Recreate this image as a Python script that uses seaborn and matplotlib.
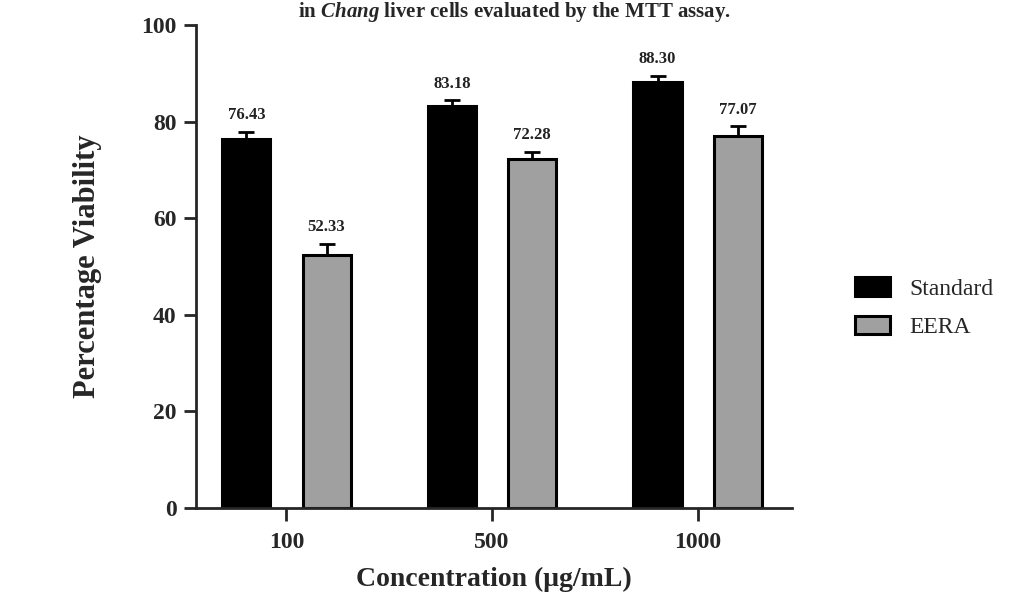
import numpy as np
import pandas as pd
import seaborn as sns
import matplotlib
matplotlib.use("Agg")
import matplotlib.pyplot as plt

concentrations = ["100", "500", "1000"]
groups = ["Standard", "EERA"]
standard_vals = [76.43, 83.18, 88.30]
eera_vals = [52.33, 72.28, 77.07]
standard_err = [1.5, 1.3, 1.2]
eera_err = [2.4, 1.5, 2.0]
value_labels = {"Standard": ["76.43", "83.18", "88.30"],
                "EERA": ["52.33", "72.28", "77.07"]}

df = pd.DataFrame({
    "Concentration": concentrations * 2,
    "Group": ["Standard"] * 3 + ["EERA"] * 3,
    "Viability": standard_vals + eera_vals,
    "Err": standard_err + eera_err,
})

sns.set_style("ticks")
plt.rcParams["font.family"] = ["Liberation Serif", "DejaVu Serif"]
plt.rcParams["mathtext.fontset"] = "custom"
plt.rcParams["mathtext.rm"] = "Liberation Serif:bold"
plt.rcParams["mathtext.it"] = "Liberation Serif:italic:bold"
plt.rcParams["mathtext.bf"] = "Liberation Serif:bold"

fig = plt.figure(figsize=(10.13, 5.98), dpi=100)
ax = fig.add_axes([0.1935, 0.1505, 0.5885, 0.8075])

sns.barplot(data=df, x="Concentration", y="Viability", hue="Group",
            order=concentrations, hue_order=groups,
            palette={"Standard": "#000000", "EERA": "#a0a0a0"},
            edgecolor="black", linewidth=2.2, width=0.78, gap=0.4,
            errorbar=None, legend=True, ax=ax)

for cont, g in zip(ax.containers, groups):
    sub = df[df["Group"] == g].set_index("Concentration").loc[concentrations]
    xs = [b.get_x() + b.get_width() / 2 for b in cont]
    ys = sub["Viability"].values
    errs = sub["Err"].values
    ax.errorbar(xs, ys, yerr=[np.zeros(len(errs)), errs], fmt="none",
                ecolor="black", elinewidth=2, capsize=6, capthick=2, zorder=3)
    for x, y, e, lab in zip(xs, ys, errs, value_labels[g]):
        ax.annotate(lab, (x, y + e), xytext=(0, 6), textcoords="offset points",
                    ha="center", va="bottom", fontsize=12, fontweight="bold",
                    color="#222222")

ax.set_ylim(0, 100)
ax.set_xlim(-0.44, 2.46)
ax.set_yticks([0, 20, 40, 60, 80, 100])
sns.despine(ax=ax)
for s in ["left", "bottom"]:
    ax.spines[s].set_linewidth(2)
ax.tick_params(axis="both", width=2, length=9, labelsize=17, pad=5)
for lab in ax.get_xticklabels() + ax.get_yticklabels():
    lab.set_fontweight("bold")
ax.tick_params(axis="x", pad=8)

ax.set_xlabel("Concentration (μg/mL)", fontsize=20, fontweight="bold", labelpad=10)
ax.set_ylabel("Percentage Viability", fontsize=22, fontweight="bold", labelpad=28)

handles, labels = ax.get_legend_handles_labels()
ax.legend(handles, labels, loc="center left", bbox_to_anchor=(0.828, 0.485),
          bbox_transform=fig.transFigure, frameon=False, fontsize=17,
          handlelength=1.45, handleheight=0.8, labelspacing=0.7, handletextpad=0.85,
          borderpad=0.2)

# caption line sits at the very top edge, as in the source figure
fig.text(0.508, 0.96,
         r"in $\it{Chang}$ liver cells evaluated by the MTT assay.",
         ha="center", va="bottom", fontsize=15, fontweight="bold")

fig.savefig("out.png", dpi=100)
